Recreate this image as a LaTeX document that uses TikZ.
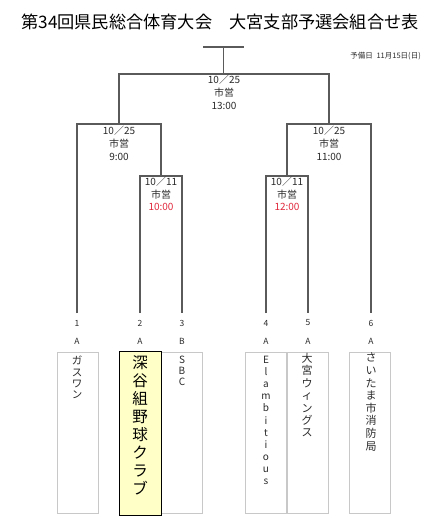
\documentclass[tikz,border=0pt]{standalone}
\usepackage{fontspec}
\setmainfont{Noto Sans CJK JP}
\definecolor{ln}{HTML}{5A5A5A}
\definecolor{bx}{HTML}{C8C8C8}
\definecolor{txt}{HTML}{2A2A2A}
\definecolor{rd}{HTML}{E0283C}
\definecolor{yl}{HTML}{FFFFC8}
\begin{document}
\begin{tikzpicture}[x=1pt,y=-1pt,
  br/.style={draw=ln,line width=1.3pt},
  lab/.style={inner sep=0pt,text=txt,font=\fontsize{10}{11}\selectfont},
  num/.style={inner sep=0pt,text=txt,font=\fontsize{8.5}{9}\selectfont},
  namebox/.style={draw=bx,line width=0.6pt,minimum width=41pt,minimum height=161pt,anchor=north,inner sep=0pt},
  mainbox/.style={draw=black,fill=yl,line width=1pt,minimum width=42pt,minimum height=164pt,anchor=north,inner sep=0pt},
  vname/.style={anchor=north,inner sep=0pt,align=center,text=txt}]
\useasboundingbox (0,0) rectangle (443,522);
% title
\node[inner sep=0pt,text=black,font=\fontsize{17.2}{18}\selectfont] (title) at (220,22) {第34回県民総合体育大会\hspace{1em}大宮支部予選会組合せ表};
\node[inner sep=0pt,text=txt,font=\fontsize{7.5}{8}\selectfont,anchor=east] (spare) at (421,56) {予備日\hspace{0.5em}11月15日(日)};
% junctions
\coordinate (stubL) at (203,47);
\coordinate (stubR) at (244,47);
\coordinate (top) at (223.5,47);
\coordinate (f) at (223.5,74);
\coordinate (fL) at (119,74);
\coordinate (fR) at (329,74);
\coordinate (sL) at (119,124);
\coordinate (sR) at (329,124);
\coordinate (sLa) at (77,124);
\coordinate (sLb) at (161,124);
\coordinate (sRa) at (287,124);
\coordinate (sRb) at (371,124);
\coordinate (qL) at (161,176);
\coordinate (qLa) at (140,176);
\coordinate (qLb) at (182,176);
\coordinate (qR) at (287,176);
\coordinate (qRa) at (266,176);
\coordinate (qRb) at (308,176);
% leaf ends
\coordinate (e1) at (77,313);
\coordinate (e2) at (140,313);
\coordinate (e3) at (182,313);
\coordinate (e4) at (266,313);
\coordinate (e5) at (308,313);
\coordinate (e6) at (371,313);
% bracket lines
\draw[br] (stubL) -- (stubR);
\draw[br] (top) -- (f);
\draw[br] (sL) -- (fL) -- (fR) -- (sR);
\draw[br] (e1) -- (sLa) -- (sLb) -- (qL);
\draw[br] (e2) -- (qLa) -- (qLb) -- (e3);
\draw[br] (qR) -- (sRa) -- (sRb) -- (e6);
\draw[br] (e4) -- (qRa) -- (qRb) -- (e5);
% match labels
\node[lab] (m1a) at (224,80) {10／25};
\node[lab] (m1b) at (224,93) {市営};
\node[lab] (m1c) at (224,106) {13:00};
\node[lab] (m2a) at (119,131) {10／25};
\node[lab] (m2b) at (119,144) {市営};
\node[lab] (m2c) at (119,157) {9:00};
\node[lab] (m3a) at (329,131) {10／25};
\node[lab] (m3b) at (329,144) {市営};
\node[lab] (m3c) at (329,157) {11:00};
\node[lab] (m4a) at (161,182) {10／11};
\node[lab] (m4b) at (161,195) {市営};
\node[lab,text=rd] (m4c) at (161,207) {10:00};
\node[lab] (m5a) at (287,182) {10／11};
\node[lab] (m5b) at (287,195) {市営};
\node[lab,text=rd] (m5c) at (287,207) {12:00};
% numbers and grades
\node[num] (n1) at (77,323) {1};
\node[num] (n2) at (140,323) {2};
\node[num] (n3) at (182,323) {3};
\node[num] (n4) at (266,323) {4};
\node[num] (n5) at (308,323) {5};
\node[num] (n6) at (371,323) {6};
\node[num] (g1) at (77,341) {A};
\node[num] (g2) at (140,341) {A};
\node[num] (g3) at (182,341) {B};
\node[num] (g4) at (266,341) {A};
\node[num] (g5) at (308,341) {A};
\node[num] (g6) at (371,341) {A};
% name boxes
\node[namebox] (b1) at (77.5,352) {};
\node[namebox] (b3) at (182,352) {};
\node[namebox] (b4) at (266,352) {};
\node[namebox] (b5) at (307.5,352) {};
\node[namebox] (b6) at (370,352) {};
\node[mainbox] (b2) at (140,351) {};
% names
\node[vname,font=\fontsize{10.5}{11.2}\selectfont] (t1) at (77,356) {ガ\\ス\\ワ\\ン};
\node[vname,font=\fontsize{15.5}{18}\selectfont,text=black] (t2) at (140,355) {深\\谷\\組\\野\\球\\ク\\ラ\\ブ};
\node[vname,font=\fontsize{10}{10.8}\selectfont] (t3) at (182,356) {S\\B\\C};
\node[vname,font=\fontsize{10}{12.1}\selectfont] (t4) at (266,356) {E\\l\\a\\m\\b\\i\\t\\i\\o\\u\\s};
\node[vname,font=\fontsize{11}{12.4}\selectfont] (t5) at (307,353) {大\\宮\\ウ\\ィ\\ン\\グ\\ス};
\node[vname,font=\fontsize{11}{12.6}\selectfont] (t6) at (371,353) {さ\\い\\た\\ま\\市\\消\\防\\局};
\end{tikzpicture}
\end{document}
